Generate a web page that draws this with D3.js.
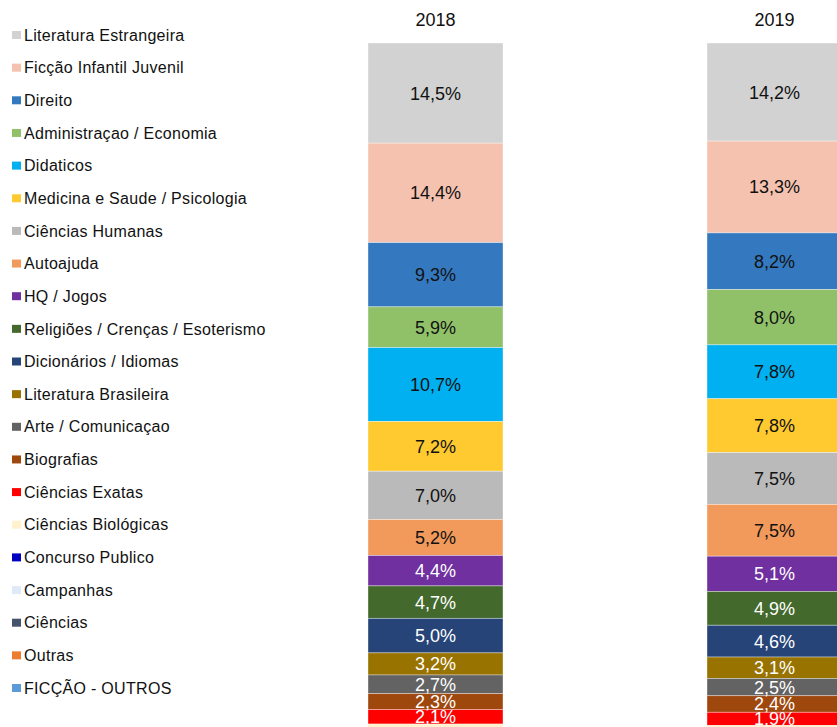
<!DOCTYPE html>
<html>
<head>
<meta charset="utf-8">
<script src="https://cdn.jsdelivr.net/npm/d3@7"></script>
<style>
  body { margin: 0; background: #fff; }
  svg { display: block; font-family: "Liberation Sans", Arial, sans-serif; }
</style>
</head>
<body>
<svg id="chart" width="837" height="727"></svg>
<script>
// categories, top of the stack first (same order as the legend)
var categories = [
  'Literatura Estrangeira', 'Ficção Infantil Juvenil', 'Direito', 'Administraçao / Economia',
  'Didaticos', 'Medicina e Saude / Psicologia', 'Ciências Humanas', 'Autoajuda', 'HQ / Jogos',
  'Religiões / Crenças / Esoterismo', 'Dicionários / Idiomas', 'Literatura Brasileira',
  'Arte / Comunicaçao', 'Biografias', 'Ciências Exatas', 'Ciências Biológicas',
  'Concurso Publico', 'Campanhas', 'Ciências', 'Outras', 'FICÇÃO - OUTROS'
];
var years = ['2018', '2019'];
var values2018 = [14.5, 14.4, 9.3, 5.9, 10.7, 7.2, 7.0, 5.2, 4.4, 4.7, 5.0, 3.2, 2.7, 2.3, 2.1, 0.6, 0.3, 0.2, 0.1, 0.1, 0.1];
var values2019 = [14.2, 13.3, 8.2, 8.0, 7.8, 7.8, 7.5, 7.5, 5.1, 4.9, 4.6, 3.1, 2.5, 2.4, 1.9, 0.5, 0.3, 0.2, 0.1, 0.05, 0.05];
var colors = [
  '#d2d2d2', '#f5c2b0', '#3479c0', '#90c169', '#00b0f0', '#ffca30', '#bababa', '#f29a5c',
  '#7030a0', '#436a2c', '#264478', '#997300', '#636363', '#9e480e', '#ff0000', '#fff2cc',
  '#0000c0', '#dfeaf6', '#44546a', '#ed7d31', '#5b9bd5'
];
// segments that carry white labels
var whiteText = ['HQ / Jogos', 'Religiões / Crenças / Esoterismo', 'Dicionários / Idiomas',
  'Literatura Brasileira', 'Arte / Comunicaçao', 'Biografias', 'Ciências Exatas'];

var svg = d3.select('#chart');

var rows = years.map(function (y, i) {
  var vals = i === 0 ? values2018 : values2019;
  var row = { year: y };
  categories.forEach(function (c, j) { row[c] = vals[j]; });
  return row;
});

var series = d3.stack().keys(categories)(rows);

var x = d3.scaleBand().domain(years).range([368, 842]).paddingInner(0.6018).paddingOuter(0);
var y = d3.scaleLinear().domain([0, 100]).range([43, 733.7]);
var color = d3.scaleOrdinal().domain(categories).range(colors);

var fmt = function (v) { return v.toFixed(1).replace('.', ',') + '%'; };

var layer = svg.selectAll('g.layer')
  .data(series)
  .join('g')
  .attr('class', 'layer')
  .attr('fill', function (d) { return color(d.key); });

layer.selectAll('rect')
  .data(function (d) { return d; })
  .join('rect')
  .attr('x', function (d) { return x(d.data.year); })
  .attr('y', function (d) { return y(d[0]); })
  .attr('width', x.bandwidth())
  .attr('height', function (d) { return y(d[1]) - y(d[0]); })
  .attr('stroke', 'rgba(255,255,255,0.45)')
  .attr('stroke-width', 0.8);

// value labels, only for the visible segments
svg.selectAll('g.lbl')
  .data(series.slice(0, 15))
  .join('g')
  .attr('class', 'lbl')
  .attr('fill', function (d) { return whiteText.indexOf(d.key) >= 0 ? '#fff' : '#111'; })
  .selectAll('text')
  .data(function (d) { return d; })
  .join('text')
  .attr('x', function (d) { return x(d.data.year) + x.bandwidth() / 2; })
  .attr('y', function (d) { return (y(d[0]) + y(d[1])) / 2; })
  .attr('dy', '0.36em')
  .attr('text-anchor', 'middle')
  .attr('font-size', 18)
  .text(function (d) { return fmt(d[1] - d[0]); });

// year headers
svg.selectAll('text.year')
  .data(years)
  .join('text')
  .attr('class', 'year')
  .attr('x', function (d) { return x(d) + x.bandwidth() / 2; })
  .attr('y', 26)
  .attr('text-anchor', 'middle')
  .attr('font-size', 18)
  .attr('fill', '#111')
  .text(function (d) { return d; });

// legend
var legend = svg.selectAll('g.legend')
  .data(categories)
  .join('g')
  .attr('class', 'legend')
  .attr('transform', function (d, i) { return 'translate(0,' + (i * 32.65) + ')'; });

legend.append('rect')
  .attr('x', 12).attr('y', 31)
  .attr('width', 9).attr('height', 8)
  .attr('fill', function (d) { return color(d); });

legend.append('text')
  .attr('x', 24).attr('y', 40.7)
  .attr('font-size', 16)
  .attr('letter-spacing', 0.3)
  .attr('fill', '#111')
  .text(function (d) { return d; });
</script>
</body>
</html>
